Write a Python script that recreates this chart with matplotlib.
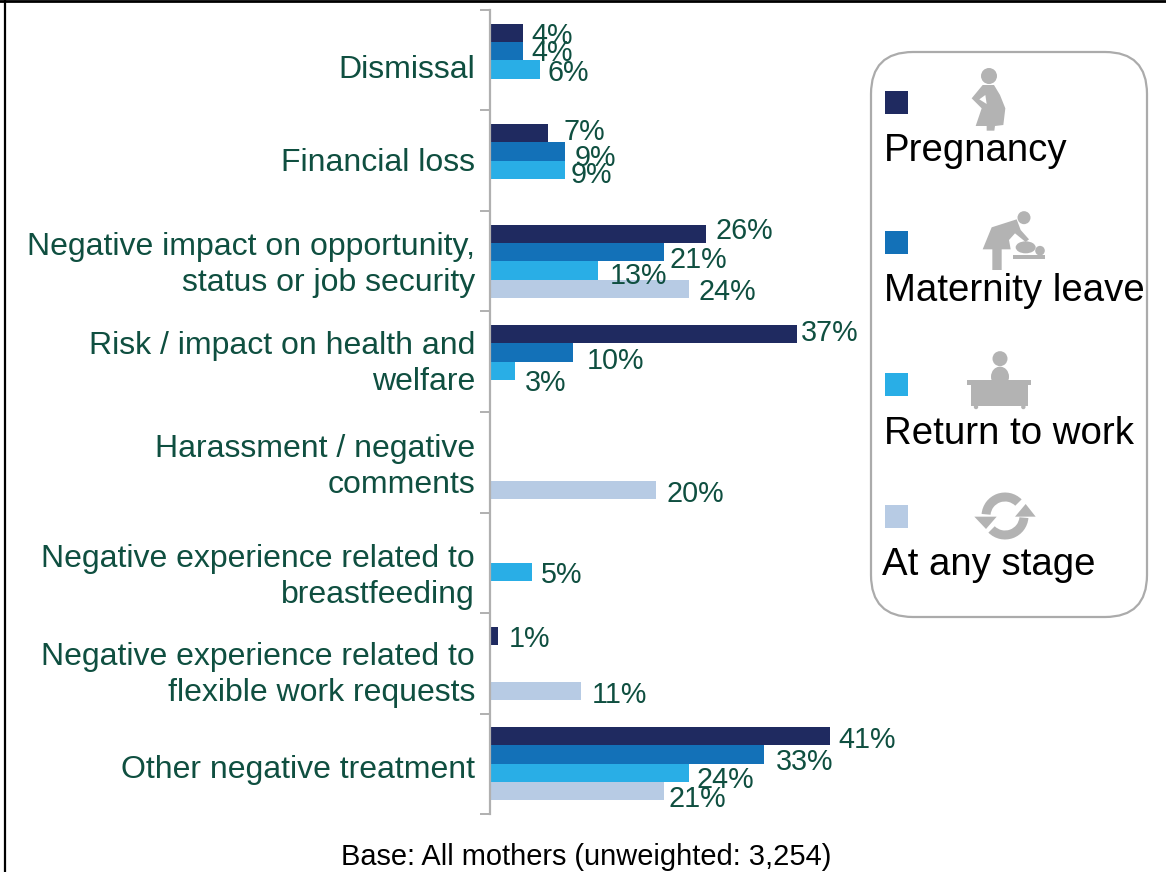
import numpy as np
import matplotlib
matplotlib.use('Agg')
import matplotlib.pyplot as plt
from matplotlib.patches import Circle, Ellipse, FancyBboxPatch, Polygon, Rectangle, Wedge

plt.rcParams['font.family'] = ['Liberation Sans', 'DejaVu Sans']

categories = ['Dismissal', 'Financial loss',
              'Negative impact on opportunity,\nstatus or job security',
              'Risk / impact on health and\nwelfare',
              'Harassment / negative\ncomments',
              'Negative experience related to\nbreastfeeding',
              'Negative experience related to\nflexible work requests',
              'Other negative treatment']
pregnancy = [4, 7, 26, 37, None, None, 1, 41]
maternity = [4, 9, 21, 10, None, None, None, 33]
return_work = [6, 9, 13, 3, None, 5, None, 24]
any_stage = [None, None, 24, None, 20, None, 11, 21]
series_names = ['Pregnancy', 'Maternity leave', 'Return to work', 'At any stage']
colors = ['#1F2A60', '#1371B8', '#29AEE6', '#B7CBE4']

# hand placed label nudges from the original, in pixels (dx, dy down)
label_nudge = {(0, 0): (8, 3), (0, 1): (8, 2), (0, 2): (8, 4),
               (1, 0): (15, -1), (1, 1): (10, 6), (1, 2): (6, 5),
               (2, 0): (10, -3), (2, 1): (5, 8), (2, 2): (12, 6), (2, 3): (9, 3),
               (3, 0): (4, -1), (3, 1): (14, 8), (3, 2): (10, 12),
               (4, 3): (10, 4), (5, 2): (9, 3), (6, 0): (10, 3), (6, 3): (10, 4),
               (7, 0): (8, 4), (7, 1): (12, 7), (7, 2): (7, 7), (7, 3): (4, 8)}
cat_nudge = [-10, -2, -3.5, -2, -5, -14, -12, -6]

W, H = 1166, 872
GREEN = '#0F4F40'
GREY = '#B0B0B0'

fig = plt.figure(figsize=(W / 100, H / 100), dpi=100)
ax = fig.add_axes([490 / W, 1 - 814 / H, 415 / W, 804 / H])

bar_h = 0.182
all_series = [pregnancy, maternity, return_work, any_stage]
for j, vals in enumerate(all_series):
    for i, v in enumerate(vals):
        if v is None:
            continue
        y = i + (j - 1.5) * bar_h
        ax.barh(y, v, height=bar_h, color=colors[j], edgecolor='none')
        dx, dy = label_nudge[(i, j)]
        ax.annotate(f'{v}%', (v, y), xytext=(dx, -dy), textcoords='offset pixels',
                    ha='left', va='center', fontsize=20.7, color=GREEN)

ax.set_xlim(0, 50)
ax.set_ylim(7.5, -0.5)
ax.set_xticks([])
ax.set_yticks(np.arange(-0.5, 8, 1))
ax.set_yticklabels([])
ax.tick_params(axis='y', length=7.2, width=1.4, color=GREY)
for s in ['top', 'right', 'bottom']:
    ax.spines[s].set_visible(False)
ax.spines['left'].set_color(GREY)
ax.spines['left'].set_linewidth(1.6)
ax.patch.set_alpha(0)

for i, c in enumerate(categories):
    ax.annotate(c, (0, i), xycoords=('axes fraction', 'data'),
                xytext=(-15, cat_nudge[i]), textcoords='offset pixels',
                ha='right', va='center', fontsize=23.05, color=GREEN, linespacing=1.27)

# overlay in pixel coordinates for frame, legend panel and icons
ov = fig.add_axes([0, 0, 1, 1], zorder=5)
ov.set_xlim(0, W)
ov.set_ylim(H, 0)
ov.axis('off')
ov.plot([5, 5], [0, H], color='black', lw=1.6)
ov.plot([0, W], [1.2, 1.2], color='black', lw=2)

ov.add_patch(FancyBboxPatch((871 + 42, 52 + 42), 276 - 84, 565 - 84,
                            boxstyle='round,pad=42,rounding_size=42',
                            fc='none', ec='#ABABAB', lw=1.6))

square_y = [91, 231, 373, 505]
text_y = [151, 291, 434, 565]
text_x = [884, 884, 884, 882]
for name, col, sy, ty, tx in zip(series_names, colors, square_y, text_y, text_x):
    ov.add_patch(Rectangle((885, sy), 23, 23, fc=col, ec='none'))
    ov.text(tx, ty, name, fontsize=27.6, color='black', ha='left', va='center')


def zp(points, oy):
    return [(860 + x / 3, oy + y / 3) for x, y in points]


ICON = '#B3B3B3'
# pregnant woman
ov.add_patch(Circle((989, 76), 8, fc=ICON, ec='none'))
ov.add_patch(Polygon(zp([(368, 135), (402, 135), (420, 165), (436, 205), (430, 255), (405, 258),
                         (403, 272), (380, 272), (380, 258), (347, 258), (365, 205), (335, 175)], 40),
                     fc=ICON, ec='none'))
ov.add_patch(Polygon(zp([(358, 178), (376, 165), (380, 192)], 40), fc='white', ec='none'))
# mother and baby
ov.add_patch(Circle((860 + 492 / 3, 40 + 533 / 3), 6.5, fc=ICON, ec='none'))
ov.add_patch(Polygon(zp([(395, 562), (470, 538), (482, 570), (507, 598), (497, 606), (465, 580),
                         (447, 600), (452, 628), (425, 628), (425, 690), (397, 690), (397, 628),
                         (368, 628)], 40), fc=ICON, ec='none'))
ov.add_patch(Rectangle((860 + 460 / 3, 40 + 645 / 3), 32, 4, fc=ICON, ec='none'))
ov.add_patch(Circle((860 + 540 / 3, 40 + 632 / 3), 4.8, fc=ICON, ec='none'))
ov.add_patch(Ellipse((860 + 497 / 3, 40 + 622 / 3), 20, 12, fc=ICON, ec='none'))
# person at desk
ov.add_patch(Circle((860 + 420 / 3, 330 + 86 / 3), 7.5, fc=ICON, ec='none'))
ov.add_patch(Ellipse((860 + 420 / 3, 330 + 140 / 3), 18, 20, fc=ICON, ec='none'))
ov.add_patch(Rectangle((860 + 322 / 3, 330 + 150 / 3), 64, 5.5, fc=ICON, ec='none'))
ov.add_patch(Rectangle((860 + 333 / 3, 330 + 166 / 3), 57, 21, fc=ICON, ec='none'))
ov.add_patch(Circle((860 + 348 / 3, 330 + 231 / 3), 2.2, fc=ICON, ec='none'))
ov.add_patch(Circle((860 + 490 / 3, 330 + 231 / 3), 2.2, fc=ICON, ec='none'))
# refresh arrows
c = (860 + 435 / 3, 330 + 558 / 3)
ov.add_patch(Wedge(c, 23.5, -175, -45, width=9, fc=ICON, ec='none'))
ov.add_patch(Wedge(c, 23.5, 5, 135, width=9, fc=ICON, ec='none'))
ov.add_patch(Polygon(zp([(497, 522), (465, 560), (527, 560)], 330), fc=ICON, ec='none'))
ov.add_patch(Polygon(zp([(378, 597), (343, 560), (410, 560)], 330), fc=ICON, ec='none'))

ov.text(586.5, 857, 'Base: All mothers (unweighted: 3,254)', fontsize=20.9,
        color='black', ha='center', va='center')

fig.savefig('out.png', dpi=100)
